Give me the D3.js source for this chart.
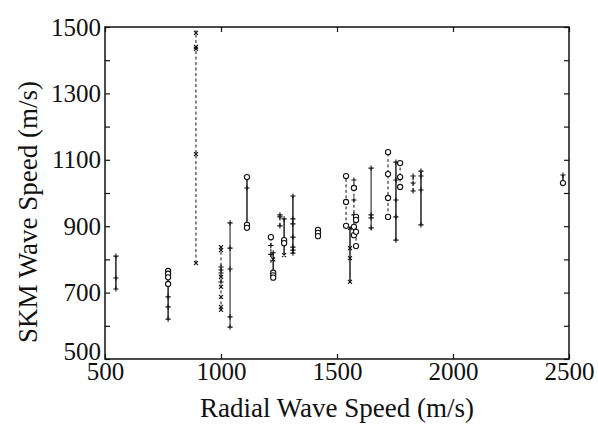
<!DOCTYPE html>
<html>
<head>
<meta charset="utf-8">
<script src="https://cdn.jsdelivr.net/npm/d3@7"></script>
<style>
  html, body { margin: 0; padding: 0; background: #fff; }
  svg { display: block; }
  text { font-family: "Liberation Serif", "Times New Roman", serif; fill: #111; }
</style>
</head>
<body>
<svg id="chart" width="598" height="426"></svg>
<script>
// Vertical ranges of SKM wave speed at each station (radial speed on x)
const lineX    = [547, 772, 892, 1000, 1039, 1112, 1215, 1225, 1254, 1272, 1310, 1418, 1539, 1556, 1573, 1582, 1647, 1720, 1754, 1772, 1828, 1862, 2474];
const lineLo   = [711, 620, 789,  648,  596,  895,  790,  744,  901,  813,  819,  870,  901,  732,  873,  840,  889,  928,  858, 1018, 1006,  904, 1024];
const lineHi   = [810, 765, 1490, 837,  910, 1048,  867,  820,  934,  922,  991,  889, 1051,  895, 1039,  928, 1075, 1123, 1093, 1090, 1051, 1066, 1054];
const lineKind = ["solid","solid","dashed","dashed","thin","solid","dashed","solid","dashed","solid","solid","solid","dashed","solid","dashed","dashed","thin","dashed","solid","dashed","dashed","solid","solid"];

// Individual estimates along each range: radial speed, SKM speed, symbol
const markX = [
  547, 547, 547,
  772, 772, 772, 772, 772, 772, 772,
  892, 892, 892, 892, 892,
  1000, 1000, 1000, 1000, 1000, 1000, 1000, 1000, 1000, 1000, 1000,
  1039, 1039, 1039, 1039, 1039,
  1112, 1112, 1112, 1112,
  1215, 1215, 1215,
  1225, 1225, 1225, 1225, 1225,
  1254, 1254, 1254,
  1272, 1272, 1272, 1272,
  1310, 1310, 1310, 1310, 1310, 1310, 1310,
  1418, 1418, 1418,
  1539, 1539, 1539,
  1556, 1556, 1556, 1556,
  1573, 1573, 1573, 1573, 1573, 1573,
  1582, 1582, 1582, 1582,
  1647, 1647, 1647, 1647,
  1720, 1720, 1720, 1720,
  1754, 1754, 1754, 1754, 1754,
  1772, 1772, 1772,
  1828, 1828, 1828,
  1862, 1862, 1862, 1862,
  2474, 2474
];
const markY = [
  810, 744, 711,
  765, 757, 746, 726, 687, 657, 620,
  1482, 1440, 1434, 1117, 789,
  837, 828, 777, 768, 759, 747, 732, 717, 687, 657, 648,
  910, 834, 771, 627, 596,
  1048, 1015, 904, 895,
  867, 842, 815,
  820, 800, 760, 752, 745,
  934, 928, 901,
  922, 858, 849, 813,
  991, 922, 907, 867, 837, 828, 819,
  889, 880, 870,
  1051, 973, 901,
  895, 834, 804, 732,
  1039, 1015, 979, 934, 898, 873,
  928, 919, 883, 840,
  1075, 934, 925, 895,
  1123, 1057, 985, 928,
  1093, 1039, 979, 928, 858,
  1090, 1048, 1018,
  1051, 1030, 1006,
  1066, 1051, 1009, 904,
  1054, 1030
];
const markShape = [
  "plus", "plus", "plus",
  "circle", "circle", "circle", "circle", "plus", "plus", "plus",
  "cross", "cross", "cross", "cross", "cross",
  "cross", "cross", "plus", "plus", "plus", "cross", "plus", "cross", "cross", "cross", "cross",
  "plus", "plus", "plus", "plus", "plus",
  "circle", "plus", "circle", "circle",
  "circle", "plus", "plus",
  "plus", "cross", "circle", "circle", "circle",
  "plus", "plus", "plus",
  "plus", "circle", "circle", "cross",
  "plus", "plus", "plus", "plus", "plus", "plus", "plus",
  "circle", "circle", "circle",
  "circle", "circle", "circle",
  "cross", "cross", "cross", "cross",
  "plus", "circle", "plus", "plus", "circle", "circle",
  "circle", "circle", "circle", "circle",
  "plus", "plus", "plus", "plus",
  "circle", "circle", "circle", "circle",
  "plus", "plus", "plus", "plus", "plus",
  "circle", "circle", "circle",
  "plus", "plus", "plus",
  "plus", "plus", "plus", "plus",
  "plus", "circle"
];

const xTicks = [500, 1000, 1500, 2000, 2500];
const yTicks = [500, 600, 700, 800, 900, 1000, 1100, 1200, 1300, 1400, 1500];
const yLabels = [500, 700, 900, 1100, 1300, 1500];

const xTitle = "Radial Wave Speed (m/s)";
const yTitle = "SKM Wave Speed (m/s)";

const svg = d3.select("#chart");
const plotL = 105, plotR = 569, plotT = 27, plotB = 359;

const x = d3.scaleLinear().domain([500, 2500]).range([plotL, plotR]);
const y = d3.scaleLinear().domain([500, 1500]).range([plotB, plotT]);

const ink = "#111";
const tickLen = 5;

// Axes: ticks point inward on all four sides
const gB = svg.append("g").attr("transform", `translate(0,${plotB})`)
  .call(d3.axisBottom(x).tickValues(xTicks).tickSizeInner(-tickLen).tickSizeOuter(0).tickPadding(3).tickFormat(d3.format("d")));
const gT = svg.append("g").attr("transform", `translate(0,${plotT})`)
  .call(d3.axisTop(x).tickValues(xTicks).tickSizeInner(-tickLen).tickSizeOuter(0).tickFormat(""));
const gL = svg.append("g").attr("transform", `translate(${plotL},0)`)
  .call(d3.axisLeft(y).tickValues(yTicks).tickSizeInner(-tickLen).tickSizeOuter(0).tickPadding(4)
    .tickFormat(d => yLabels.includes(d) ? String(d) : ""));
const gR = svg.append("g").attr("transform", `translate(${plotR},0)`)
  .call(d3.axisRight(y).tickValues(yTicks).tickSizeInner(-tickLen).tickSizeOuter(0).tickFormat(""));

[gB, gT, gL, gR].forEach(g => {
  g.select(".domain").remove();
  g.selectAll(".tick line").attr("stroke", ink).attr("stroke-width", 1.2);
  g.selectAll(".tick text").attr("fill", ink)
    .style("font-family", '"Liberation Serif", serif').style("font-size", "25px");
});
gB.selectAll(".tick text").attr("dy", "0.72em");
// the lowest y label sits on its tick so it clears the x label below
gL.selectAll(".tick text").attr("dy", d => d === 500 ? "0.02em" : "0.32em");

// Plot frame
svg.append("rect")
  .attr("x", plotL).attr("y", plotT)
  .attr("width", plotR - plotL).attr("height", plotB - plotT)
  .attr("fill", "none").attr("stroke", ink).attr("stroke-width", 1.5);

// Range lines
const lines = d3.range(lineX.length).map(i => ({ x: lineX[i], lo: lineLo[i], hi: lineHi[i], kind: lineKind[i] }));
svg.append("g").selectAll("line").data(lines).join("line")
  .attr("x1", d => x(d.x)).attr("x2", d => x(d.x))
  .attr("y1", d => y(d.lo)).attr("y2", d => y(d.hi))
  .attr("stroke", ink)
  .attr("stroke-width", d => d.kind === "solid" ? 1.4 : 1)
  .attr("stroke-dasharray", d => d.kind === "dashed" ? "3,2.5" : null);

// Symbols
const marks = d3.range(markX.length).map(i => ({ x: markX[i], y: markY[i], s: markShape[i] }));
const gm = svg.append("g").attr("stroke", ink).attr("fill", "none").attr("stroke-width", 1.1);
marks.forEach(m => {
  const cx = x(m.x), cy = y(m.y);
  if (m.s === "circle") {
    gm.append("circle").attr("cx", cx).attr("cy", cy).attr("r", 2.6).attr("fill", "#fff");
  } else if (m.s === "plus") {
    const h = 2.6;
    gm.append("path").attr("d", `M${cx - h},${cy}H${cx + h}M${cx},${cy - h}V${cy + h}`);
  } else {
    const h = 2;
    gm.append("path").attr("d", `M${cx - h},${cy - h}L${cx + h},${cy + h}M${cx - h},${cy + h}L${cx + h},${cy - h}`);
  }
});

// Axis titles
svg.append("text")
  .attr("x", (plotL + plotR) / 2).attr("y", 417)
  .attr("text-anchor", "middle")
  .style("font-size", "27px")
  .text(xTitle);

svg.append("text")
  .attr("transform", `translate(37,212) rotate(-90)`)
  .attr("text-anchor", "middle")
  .style("font-size", "27px")
  .text(yTitle);
</script>
</body>
</html>
